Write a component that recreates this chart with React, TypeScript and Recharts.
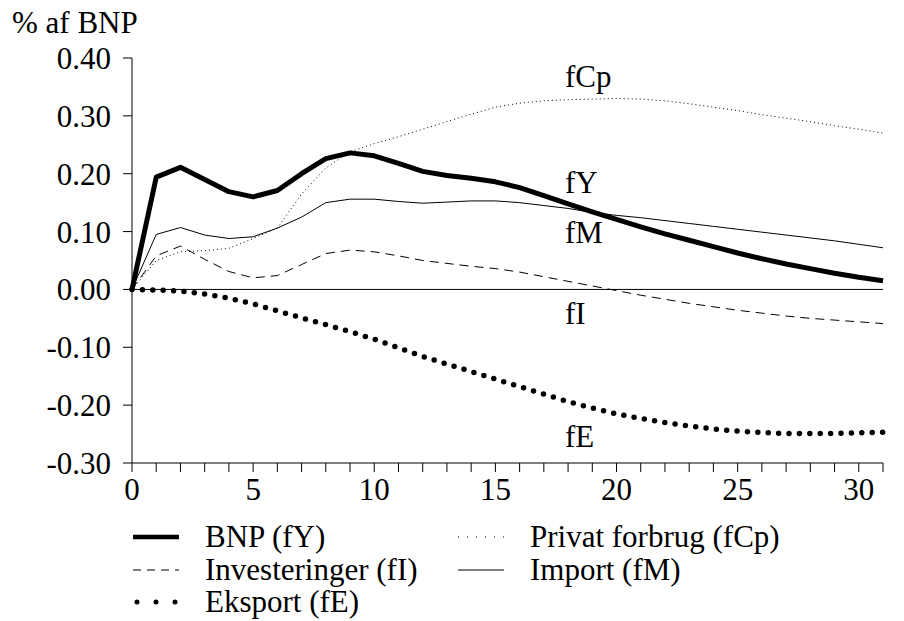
import {
  LineChart,
  Line,
  XAxis,
  YAxis,
  ReferenceLine,
  ReferenceDot,
} from "recharts";

// quarters after the shock
const periods = Array.from({ length: 32 }, (_, i) => i);

// % af BNP
const bnp = [
  0, 0.194, 0.211, 0.19, 0.169, 0.16, 0.171, 0.2, 0.226, 0.236, 0.231, 0.218,
  0.204, 0.197, 0.192, 0.186, 0.176, 0.162, 0.148, 0.134, 0.121, 0.108, 0.096,
  0.085, 0.074, 0.063, 0.053, 0.044, 0.036, 0.028, 0.021, 0.015,
];
const privatForbrug = [
  0, 0.05, 0.065, 0.067, 0.071, 0.088, 0.106, 0.165, 0.21, 0.238, 0.252, 0.264,
  0.277, 0.29, 0.303, 0.315, 0.322, 0.326, 0.328, 0.329, 0.33, 0.329, 0.326,
  0.321, 0.315, 0.309, 0.302, 0.296, 0.29, 0.283, 0.277, 0.27,
];
const investeringer = [
  0, 0.058, 0.075, 0.052, 0.031, 0.02, 0.024, 0.043, 0.062, 0.068, 0.065,
  0.058, 0.05, 0.045, 0.04, 0.036, 0.03, 0.022, 0.014, 0.006, -0.002, -0.01,
  -0.017, -0.024, -0.03, -0.036, -0.041, -0.046, -0.05, -0.053, -0.056,
  -0.059,
];
const importQ = [
  0, 0.095, 0.107, 0.094, 0.088, 0.091, 0.106, 0.125, 0.15, 0.156, 0.156,
  0.152, 0.149, 0.151, 0.153, 0.153, 0.15, 0.145, 0.14, 0.133, 0.128, 0.124,
  0.119, 0.114, 0.109, 0.104, 0.099, 0.094, 0.089, 0.084, 0.078, 0.072,
];
const eksport = [
  0, -0.001, -0.003, -0.008, -0.015, -0.025, -0.037, -0.049, -0.061, -0.073,
  -0.086, -0.101, -0.116, -0.129, -0.142, -0.155, -0.168, -0.181, -0.194,
  -0.205, -0.215, -0.223, -0.23, -0.236, -0.241, -0.245, -0.247, -0.249,
  -0.249, -0.249, -0.248, -0.247,
];

const yTicks = [-0.3, -0.2, -0.1, 0, 0.1, 0.2, 0.3, 0.4];
const xTicks = periods;
const xLabelEvery = 5;

const annotations = [
  { text: "fCp", x: 17.87, y: 0.369 },
  { text: "fY", x: 17.87, y: 0.186 },
  { text: "fM", x: 17.87, y: 0.1 },
  { text: "fI", x: 17.87, y: -0.041 },
  { text: "fE", x: 17.87, y: -0.253 },
];

const data = periods.map((t, i) => ({
  t,
  fY: bnp[i],
  fCp: privatForbrug[i],
  fI: investeringer[i],
  fM: importQ[i],
  fE: eksport[i],
}));

const FONT = "'Liberation Serif', serif";
const FS = 31;

const series = [
  { key: "fY", name: "BNP (fY)", width: 5, dash: undefined, cap: "butt", legendDash: undefined, legendWidth: 4.5 },
  { key: "fCp", name: "Privat forbrug (fCp)", width: 1, dash: "1 3", cap: "butt", legendDash: "1 8", legendWidth: 1 },
  { key: "fI", name: "Investeringer (fI)", width: 1, dash: "9 6", cap: "butt", legendDash: "8 6", legendWidth: 1 },
  { key: "fM", name: "Import (fM)", width: 1, dash: undefined, cap: "butt", legendDash: undefined, legendWidth: 1 },
  { key: "fE", name: "Eksport (fE)", width: 5.5, dash: "0 10.4", cap: "round", legendDash: "0 19", legendWidth: 5 },
];

// legend layout: two columns, three rows
const legendOrder = ["fY", "fCp", "fI", "fM", "fE"];

function LegendBlock() {
  return (
    <div style={{ position: "absolute", left: 133, top: 521, width: 700, fontFamily: FONT, fontSize: FS, lineHeight: "32.5px" }}>
      {legendOrder.map((k, i) => {
        const s = series.find((x) => x.key === k)!;
        const col = i % 2;
        const row = Math.floor(i / 2);
        return (
          <div key={k} style={{ position: "absolute", left: col * 325, top: row * 32.5, whiteSpace: "nowrap", height: 32.5 }}>
            <svg width={46} height={20} style={{ position: "absolute", left: 0, top: 6.4 }}>
              <line
                x1={k === "fE" ? 4 : 0}
                x2={46}
                y1={10}
                y2={10}
                stroke="#000"
                strokeWidth={s.legendWidth}
                strokeDasharray={s.legendDash}
                strokeLinecap={s.cap as any}
              />
            </svg>
            <span style={{ position: "absolute", left: 72, top: 0 }}>{s.name}</span>
          </div>
        );
      })}
    </div>
  );
}

export default function App() {
  return (
    <div style={{ position: "absolute", left: 0, top: 0, width: 904, height: 621, background: "#fff", fontFamily: FONT }}>
      <LineChart width={904} height={621} data={data} margin={{ top: 58, right: 21, left: 0, bottom: 118 }}>
        <XAxis
          dataKey="t"
          type="number"
          domain={[0, 31]}
          ticks={xTicks}
          interval={0}
          tickFormatter={(v) => (v % xLabelEvery === 0 ? String(v) : "")}
          height={40}
          tickSize={9}
          tickMargin={6}
          stroke="#000"
          tick={{ fill: "#000", fontSize: FS, fontFamily: FONT }}
        />
        <YAxis
          type="number"
          domain={[-0.3, 0.4]}
          ticks={yTicks}
          interval={0}
          width={132}
          tickSize={9}
          tickMargin={12}
          stroke="#000"
          tickFormatter={(v) => Number(v).toFixed(2)}
          tick={{ fill: "#000", fontSize: FS, fontFamily: FONT }}
          label={(props: any) => {
            const vb = props.viewBox || {};
            return (
              <text x={(vb.x ?? 0) + 12} y={(vb.y ?? 58) - 25} fill="#000" fontSize={FS} fontFamily={FONT}>
                % af BNP
              </text>
            );
          }}
        />
        <ReferenceLine y={0} stroke="#000" strokeWidth={1} />
        {series.map((s) => (
          <Line
            key={s.key}
            dataKey={s.key}
            type="linear"
            stroke="#000"
            strokeWidth={s.width}
            strokeDasharray={s.dash}
            strokeLinecap={s.cap as any}
            strokeLinejoin="round"
            dot={false}
            activeDot={false}
            isAnimationActive={false}
          />
        ))}
        {annotations.map((a) => (
          <ReferenceDot
            key={a.text}
            x={a.x}
            y={a.y}
            r={0}
            fill="none"
            stroke="none"
            label={{ value: a.text, position: "right", offset: 0, fill: "#000", fontSize: FS, fontFamily: FONT }}
          />
        ))}
      </LineChart>
      <LegendBlock />
    </div>
  );
}
